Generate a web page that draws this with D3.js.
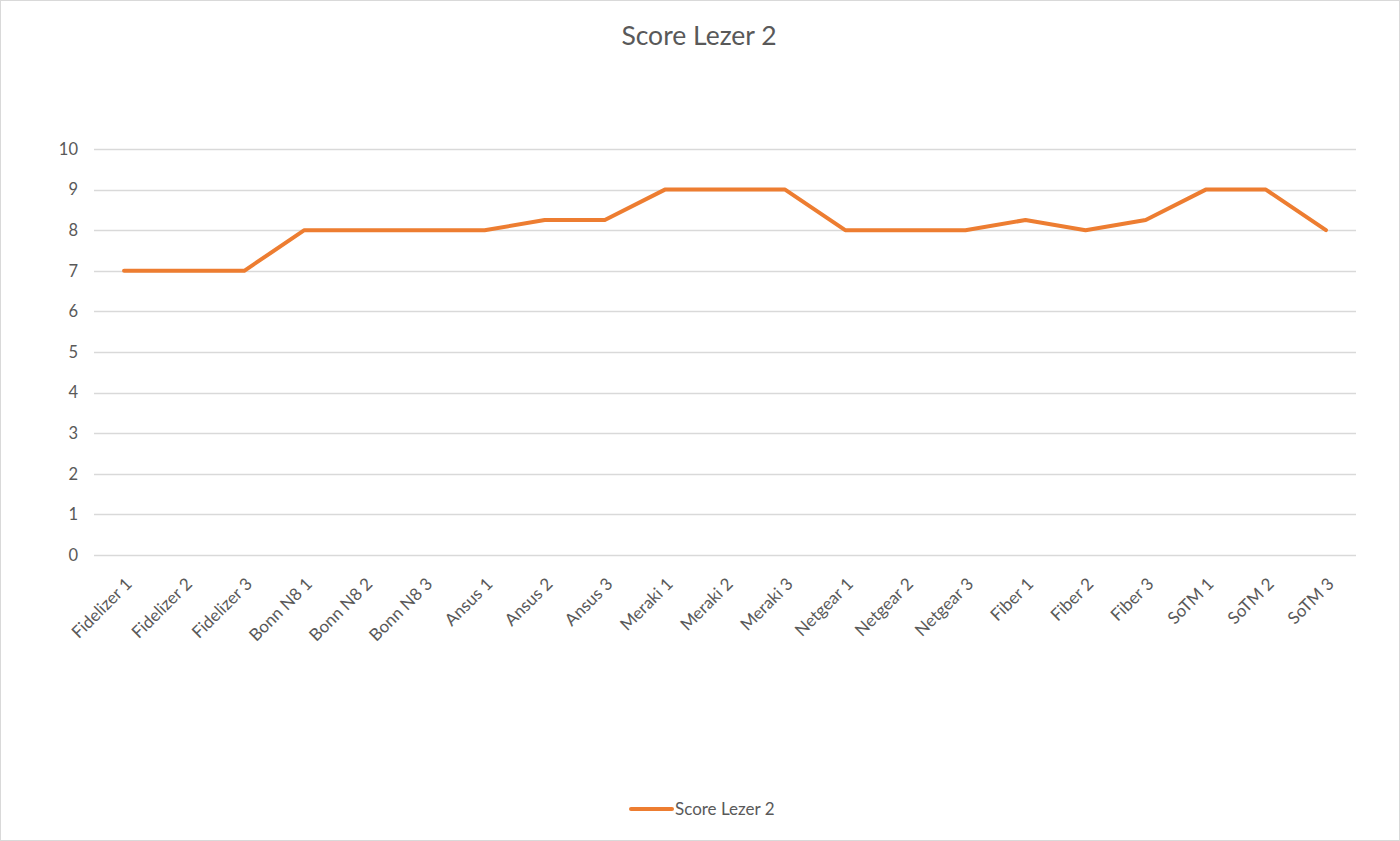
<!DOCTYPE html>
<html><head><meta charset="utf-8">
<script src="https://cdn.jsdelivr.net/npm/d3@7"></script>
<style>body{margin:0;background:#fff;} svg{display:block;font-family:Lato,"Open Sans",sans-serif;}</style>
</head><body>
<svg id="c" width="1400" height="841"></svg>
<script>
const categories = ["Fidelizer 1","Fidelizer 2","Fidelizer 3","Bonn N8 1","Bonn N8 2","Bonn N8 3","Ansus 1","Ansus 2","Ansus 3","Meraki 1","Meraki 2","Meraki 3","Netgear 1","Netgear 2","Netgear 3","Fiber 1","Fiber 2","Fiber 3","SoTM 1","SoTM 2","SoTM 3"];
const scores = [7,7,7,8,8,8,8,8.25,8.25,9,9,9,8,8,8,8.25,8,8.25,9,9,8];
const yTicks = [0,1,2,3,4,5,6,7,8,9,10];
const seriesName = "Score Lezer 2";
const title = "Score Lezer 2";

const svg = d3.select("#c");
const color = "#ED7D31";
svg.append("rect").attr("x",0.5).attr("y",0.5).attr("width",1399).attr("height",840)
  .attr("fill","#fff").attr("stroke","#d9d9d9");

const x = d3.scaleBand().domain(categories).range([94,1356]);
const y = d3.scaleLinear().domain([0,10]).range([555,149]);

// gridlines
svg.append("g").selectAll("line").data(yTicks).join("line")
  .attr("x1",94).attr("x2",1356)
  .attr("y1",d=>Math.round(y(d))+0.5).attr("y2",d=>Math.round(y(d))+0.5)
  .attr("stroke","#d9d9d9").attr("stroke-width",1.3);

// y labels
svg.append("g").selectAll("text").data(yTicks).join("text")
  .attr("x",78).attr("y",d=>y(d)).attr("dy","0.35em")
  .attr("text-anchor","end").attr("fill","#595959").attr("font-size",16.5)
  .text(d=>d);

// x labels
svg.append("g").selectAll("text").data(categories).join("text")
  .attr("transform",d=>`translate(${x(d)+x.bandwidth()/2+9},${585}) rotate(-45)`)
  .attr("text-anchor","end").attr("fill","#595959").attr("font-size",17)
  .text(d=>d);

// line
const line = d3.line().x((d,i)=>x(categories[i])+x.bandwidth()/2).y(d=>y(d));
svg.append("path").datum(scores).attr("d",line)
  .attr("fill","none").attr("stroke",color).attr("stroke-width",4)
  .attr("stroke-linejoin","round").attr("stroke-linecap","round");

// title
svg.append("text").attr("x",699).attr("y",45).attr("text-anchor","middle")
  .attr("fill","#595959").attr("font-size",26.5).text(title);

// legend
svg.append("line").attr("x1",631).attr("x2",672).attr("y1",809).attr("y2",809)
  .attr("stroke",color).attr("stroke-width",4).attr("stroke-linecap","round");
svg.append("text").attr("x",675).attr("y",809).attr("dy","0.35em")
  .attr("fill","#595959").attr("font-size",17).text(seriesName);
</script>
</body></html>
